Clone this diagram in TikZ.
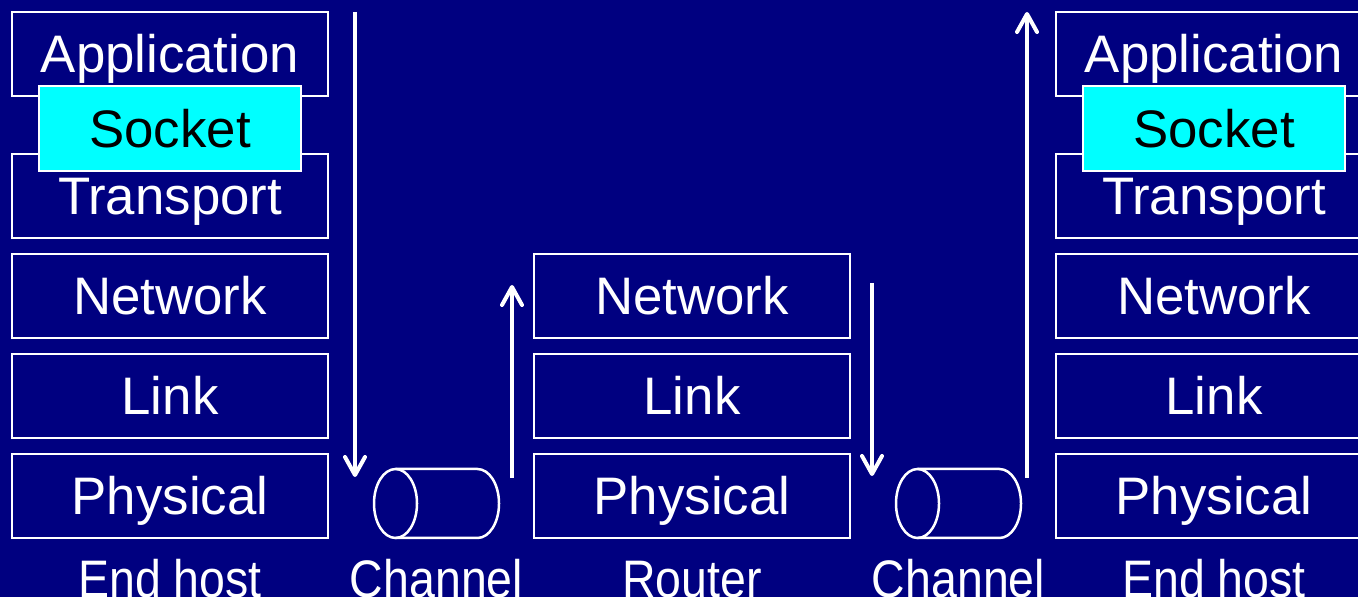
\documentclass[tikz,border=0pt]{standalone}
\usepackage{fontspec}
\setmainfont{Liberation Sans}
\newfontfamily\narrowfont[FakeStretch=0.88]{Liberation Sans}
\usepackage{tikz}
\usetikzlibrary{arrows.meta,positioning,calc}
\definecolor{slidebg}{RGB}{0,0,128}
\definecolor{socketfill}{RGB}{0,255,255}

\begin{document}
\begin{tikzpicture}[
    layer/.style={draw=white, line width=1pt, minimum width=158pt, minimum height=42pt, outer sep=0pt, inner sep=0pt, text=white, font=\fontsize{26.4}{30}\selectfont, text height=18.9pt, text depth=0pt},
    socket/.style={layer, fill=socketfill, text=black, minimum width=131pt, minimum height=42.5pt},
    caption/.style={anchor=base, inner sep=0pt, text=white, font=\narrowfont\fontsize{26.4}{30}\selectfont},
    flow/.style={-{Straight Barb[length=9pt, width=10pt, round]}, line width=2pt, draw=white},
    pipe/.style={draw=white, line width=1.25pt}
]
\fill[slidebg] (0,0) rectangle (679pt,-298.5pt);
\useasboundingbox (0,0) rectangle (679pt,-298.5pt);

% end host (left)
\node[layer] (app1) at (85pt,-27pt) {Application};
\node[layer, below=29pt of app1] (trans1) {Transport};
\node[layer, below=8pt of trans1] (net1) {Network};
\node[layer, below=8pt of net1] (link1) {Link};
\node[layer, below=8pt of link1] (phy1) {Physical};
\node[socket, yshift=-1.75pt] (sock1) at ($(app1.south)!0.5!(trans1.north)$) {Socket};

% router
\node[layer, right=103pt of net1] (net2) {Network};
\node[layer, below=8pt of net2] (link2) {Link};
\node[layer, below=8pt of link2] (phy2) {Physical};

% end host (right)
\node[layer, right=103pt of net2] (net3) {Network};
\node[layer, above=8pt of net3] (trans3) {Transport};
\node[layer, above=29pt of trans3] (app3) {Application};
\node[layer, below=8pt of net3] (link3) {Link};
\node[layer, below=8pt of link3] (phy3) {Physical};
\node[socket, yshift=-1.75pt] (sock3) at ($(app3.south)!0.5!(trans3.north)$) {Socket};

% channels
\coordinate (chan1) at ([xshift=23pt]phy1.south east);
\coordinate (chan2) at ([xshift=23pt]phy2.south east);
\foreach \c in {chan1,chan2} {
    \draw[pipe] ([xshift=10.75pt, yshift=17.25pt]\c) ellipse (10.75pt and 17.25pt);
    \draw[pipe] ([xshift=10.75pt, yshift=34.5pt]\c) -- ++(41pt,0)
        arc[start angle=90, end angle=-90, x radius=10.75pt, y radius=17.25pt] -- ++(-41pt,0);
}

% data path
\coordinate (down1 top) at ([xshift=13.5pt]app1.north east);
\coordinate (down1 end) at ([xshift=13.5pt, yshift=-11.5pt]phy1.north east);
\coordinate (up1 start) at ([xshift=-11pt, yshift=-12pt]phy2.north west);
\coordinate (up1 top) at ([xshift=-11pt, yshift=-15.5pt]net2.north west);
\coordinate (down2 top) at ([xshift=11pt, yshift=-14.5pt]net2.north east);
\coordinate (down2 end) at ([xshift=11pt, yshift=-11pt]phy2.north east);
\coordinate (up2 start) at ([xshift=-14.5pt, yshift=-12pt]phy3.north west);
\coordinate (up2 top) at ([xshift=-14.5pt]app3.north west);

\draw[flow] (down1 top) -- (down1 end);
\draw[flow] (up1 start) -- (up1 top);
\draw[flow] (down2 top) -- (down2 end);
\draw[flow] (up2 start) -- (up2 top);

% captions
\node[caption] (host1) at ([yshift=-29.6pt]phy1.south) {End host};
\node[caption] (chanlabel1) at ([xshift=31.25pt, yshift=-29.6pt]chan1) {Channel};
\node[caption] (router) at ([yshift=-29.6pt]phy2.south) {Router};
\node[caption] (chanlabel2) at ([xshift=31.25pt, yshift=-29.6pt]chan2) {Channel};
\node[caption] (host3) at ([yshift=-29.6pt]phy3.south) {End host};

\end{tikzpicture}
\end{document}
